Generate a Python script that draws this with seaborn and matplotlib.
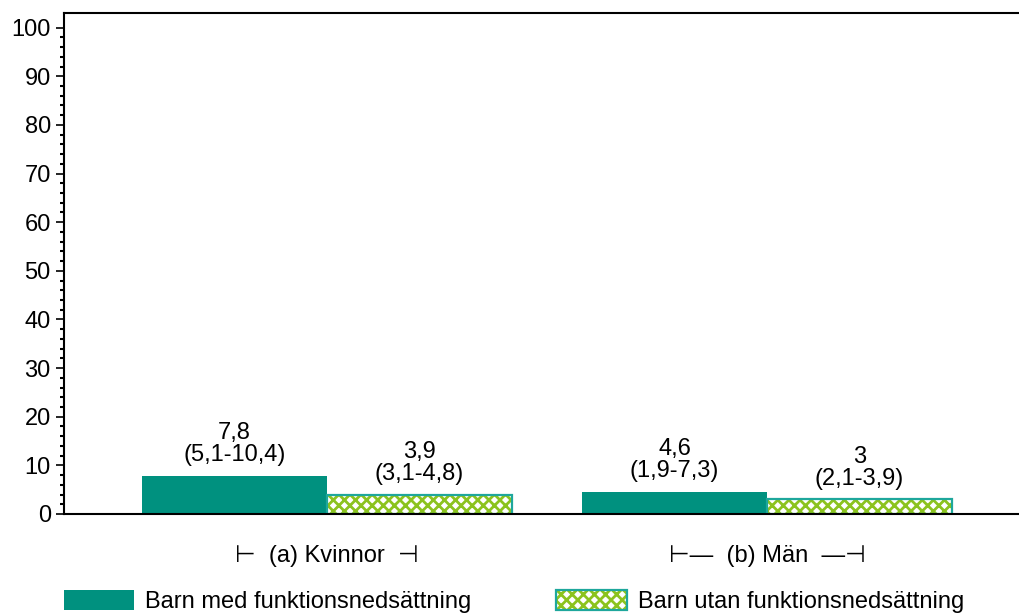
import matplotlib
matplotlib.use("Agg")
import matplotlib.pyplot as plt
import matplotlib.patches as mpatches
from matplotlib.legend_handler import HandlerTuple
import pandas as pd
import seaborn as sns

groups = ["(a) Kvinnor", "(b) Män"]
group_labels = ["⊢  (a) Kvinnor  ⊣", "⊢—  (b) Män  —⊣"]
series = ["Barn med funktionsnedsättning", "Barn utan funktionsnedsättning"]
med_values = [7.8, 4.6]
utan_values = [3.9, 3.0]
med_ci = ["(5,1-10,4)", "(1,9-7,3)"]
utan_ci = ["(3,1-4,8)", "(2,1-3,9)"]

teal = "#00917f"
green = "#8cc31e"
outline = "#1ea79c"

df = pd.DataFrame({
    "grupp": groups * 2,
    "serie": [series[0]] * 2 + [series[1]] * 2,
    "varde": med_values + utan_values,
})
labels = [f"{v:g}".replace(".", ",") + "\n" + ci
          for v, ci in zip(med_values + utan_values, med_ci + utan_ci)]

sns.set_style("white")
plt.rcParams["font.family"] = ["Liberation Sans", "DejaVu Sans"]
plt.rcParams["hatch.linewidth"] = 2.0
plt.rcParams["text.color"] = "black"
plt.rcParams["xtick.color"] = "black"
plt.rcParams["ytick.color"] = "black"

fs = 17

fig = plt.figure(figsize=(10.19, 6.16), dpi=100)
ax = fig.add_axes([64 / 1019, 102 / 616, 1 - 64 / 1019, 501 / 616])

sns.barplot(data=df, x="grupp", y="varde", hue="serie", order=groups,
            hue_order=series, palette=[teal, green], width=0.84, gap=0,
            saturation=1, errorbar=None, legend=False, ax=ax)

bars = list(ax.patches)
for i, p in enumerate(bars):
    if i < 2:
        p.set_facecolor(teal)
        p.set_edgecolor(teal)
        p.set_linewidth(0)
    else:
        p.set_facecolor("white")
        p.set_edgecolor(green)
        p.set_hatch("xxx")
        p.set_linewidth(0)
        ax.add_patch(mpatches.Rectangle(p.get_xy(), p.get_width(), p.get_height(),
                                        fill=False, edgecolor=outline, lw=1.6))
    ax.annotate(labels[i], (p.get_x() + p.get_width() / 2, p.get_height()),
                xytext=(0, 7), textcoords="offset points", ha="center",
                va="bottom", fontsize=fs, linespacing=1.0)

ax.set_xlim(-0.598, 1.573)
ax.set_ylim(0, 103)
ax.set_yticks(range(0, 101, 10))
ax.set_yticks(range(0, 101, 2), minor=True)
ax.set_xticks([0, 1])
ax.set_xticklabels(group_labels)
ax.tick_params(axis="y", which="major", length=6, width=1.2, direction="out",
               left=True, labelsize=fs, pad=3.5)
ax.tick_params(axis="y", which="minor", length=3, width=1.5, direction="out",
               left=True)
ax.tick_params(axis="x", length=0, labelsize=fs, pad=22)
ax.set_xlabel("")
ax.set_ylabel("")
for side in ["left", "bottom", "top"]:
    ax.spines[side].set_color("black")
    ax.spines[side].set_linewidth(1.5)
ax.spines["right"].set_visible(False)

h_med = mpatches.Patch(facecolor=teal, edgecolor=teal, lw=0)
h_utan_fill = mpatches.Patch(facecolor="white", edgecolor=green, hatch="xxx", lw=0)
h_utan_edge = mpatches.Patch(fill=False, edgecolor=outline, lw=1.6)
leg = fig.legend([h_med, (h_utan_fill, h_utan_edge)], series,
                 handler_map={tuple: HandlerTuple(ndivide=1, pad=0)},
                 loc="lower left", bbox_to_anchor=(64 / 1019, 0.005),
                 ncol=2, frameon=False, fontsize=fs, handlelength=2.97,
                 handleheight=0.95, handletextpad=0.47, columnspacing=3.6,
                 borderpad=0, borderaxespad=0)

fig.savefig("out.png", dpi=100)
